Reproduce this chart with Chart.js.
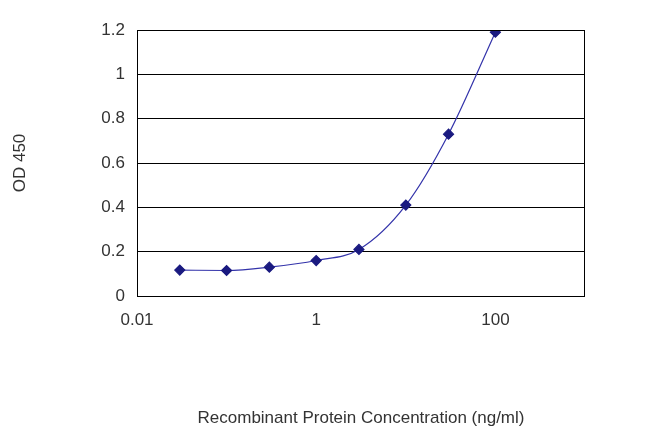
<!DOCTYPE html>
<html><head><meta charset="utf-8">
<script src="https://cdn.jsdelivr.net/npm/chart.js@4/dist/chart.umd.min.js"></script>
<style>html,body{margin:0;padding:0;background:#fff}#w{width:650px;height:433px}</style>
</head><body><div id="w"><canvas id="c"></canvas></div>
<script>
const concentrations = [0.03, 0.1, 0.3, 1, 3, 10, 30, 100];
const odValues = [0.117, 0.115, 0.13, 0.16, 0.21, 0.41, 0.73, 1.19];
const xTicks = [0.01, 1, 100];
const yTicks = [0, 0.2, 0.4, 0.6, 0.8, 1, 1.2];

const boxPlugin = {id:'box', afterDraw(ch){const a=ch.chartArea,c=ch.ctx;c.save();c.strokeStyle='#000';c.lineWidth=1;c.strokeRect(a.left+0.5,a.top+0.5,a.right-a.left-1,a.bottom-a.top);c.restore();}};
const font = {family:'"Liberation Sans", Arial, sans-serif', size:17};
new Chart(document.getElementById('c'), {
  type:'line',
  data:{datasets:[{data:concentrations.map((x,i)=>({x, y:odValues[i]})),
    borderColor:'#3333aa', borderWidth:1.2, backgroundColor:'#1a1a80',
    pointStyle:'rectRot', pointRadius:5, pointBorderColor:'#1a1a80', cubicInterpolationMode:'monotone'}]},
  options:{
    responsive:true, maintainAspectRatio:false, animation:false,
    layout:{padding:{top:30,right:65,left:6,bottom:0}},
    plugins:{legend:{display:false},tooltip:{enabled:false}},
    scales:{
      x:{type:'logarithmic', min:0.01, max:1000,
        afterBuildTicks(s){s.ticks=xTicks.map(v=>({value:v}));},
        afterFit(s){s.height=137;},
        grid:{display:false, drawTicks:true},
        border:{display:false},
        ticks:{color:'#333', font, padding:6, callback:v=>String(v)},
        title:{display:true, text:'Recombinant Protein Concentration (ng/ml)', color:'#333', font, padding:{top:40}}},
      y:{min:0, max:1.2,
        afterBuildTicks(s){s.ticks=yTicks.map(v=>({value:v}));},
        afterFit(s){s.width=131;},
        grid:{color:'#000', lineWidth:1, tickLength:5, drawTicks:false},
        border:{display:false},
        ticks:{color:'#333', font, padding:12, callback:v=>String(v)},
        title:{display:true, text:'OD 450', color:'#333', font, padding:{bottom:40}}}
    }
  },
  plugins:[boxPlugin]
});
</script></body></html>
